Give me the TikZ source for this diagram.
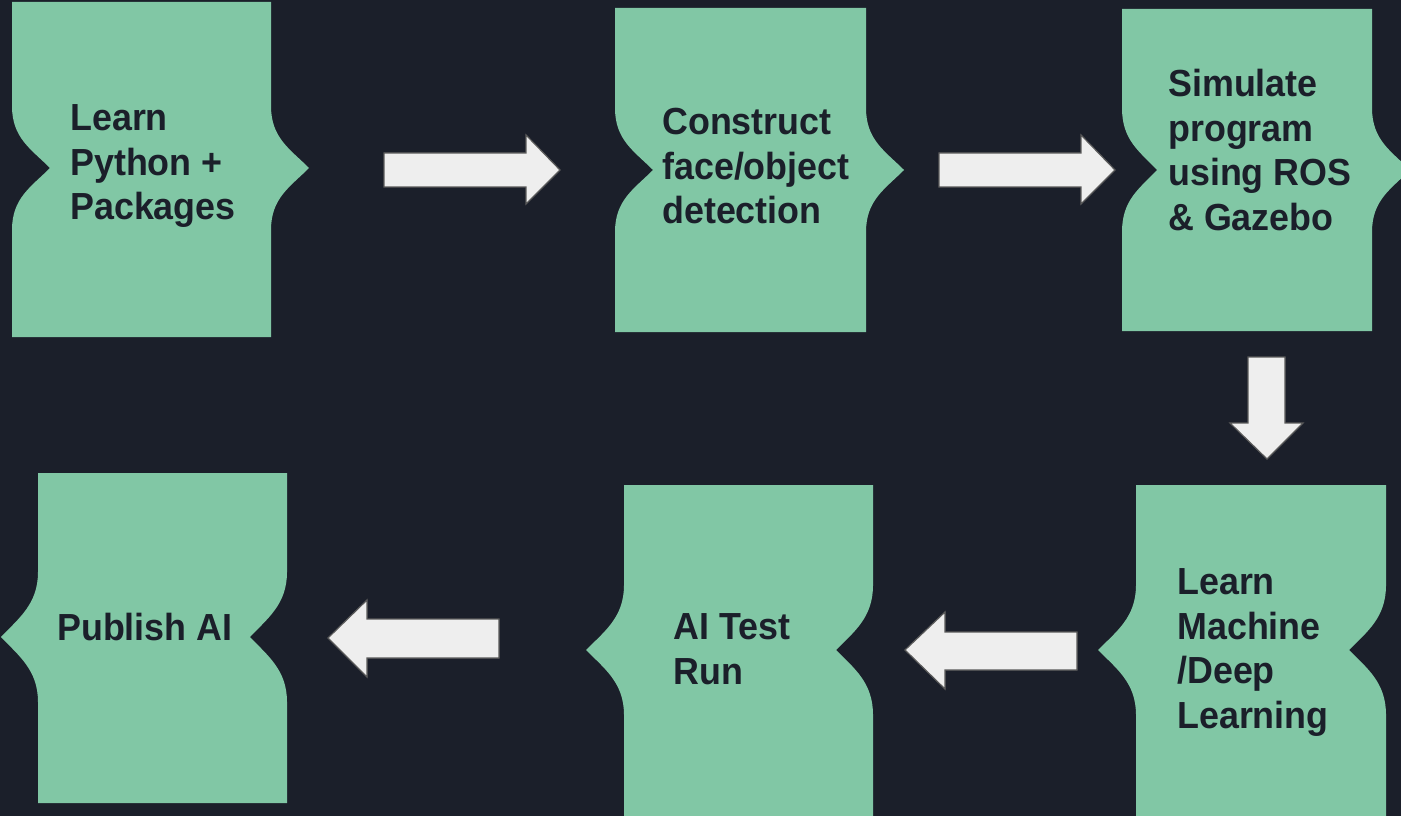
\documentclass[tikz,border=0pt]{standalone}
\usepackage{fontspec}
\setmainfont{Liberation Sans}[FakeStretch=0.95]
\definecolor{bgdark}{HTML}{1B1F2A}
\definecolor{stepgreen}{HTML}{81C7A5}
\definecolor{arrowfill}{HTML}{EEEEEE}
\definecolor{arrowedge}{HTML}{5A5A5A}
\tikzset{
  stepshape/.style={fill=stepgreen},
  blockarrow/.style={fill=arrowfill, draw=arrowedge, line width=0.9},
  steptext/.style={anchor=base west, inner sep=0pt, align=left, text=bgdark,
    font=\fontsize{28.3}{33.4}\selectfont\bfseries}
}
\begin{document}
\begin{tikzpicture}[x=0.75pt,y=0.75pt,yscale=-1,xscale=1]
%background, sets the size of the diagram
\fill [bgdark] (0,0) rectangle (1401,816);
\clip (0,0) rectangle (1401,816);

%Shape: Step [id:python]
\path [stepshape] (12,2) -- (271,2) -- (271,106) .. controls (271,138) and (290,149) .. (309,168) .. controls (290,187) and (271,198) .. (271,230) -- (271,337) -- (12,337) -- (12,230) .. controls (12,198) and (31,187) .. (50,168) .. controls (31,149) and (12,138) .. (12,106) -- cycle ;
%Shape: Step [id:detect]
\path [stepshape] (615,8) -- (866,8) -- (866,108) .. controls (866,140) and (885,151) .. (904,170) .. controls (885,189) and (866,200) .. (866,232) -- (866,332) -- (615,332) -- (615,232) .. controls (615,200) and (634,189) .. (653,170) .. controls (634,151) and (615,140) .. (615,108) -- cycle ;
%Shape: Step [id:simulate]
\path [stepshape] (1122,9) -- (1372,9) -- (1372,108) .. controls (1372,140) and (1391,151) .. (1410,170) .. controls (1391,189) and (1372,200) .. (1372,232) -- (1372,331) -- (1122,331) -- (1122,232) .. controls (1122,200) and (1139,189) .. (1157,170) .. controls (1139,151) and (1122,140) .. (1122,108) -- cycle ;
%Shape: Step [id:learnml]
\path [stepshape] (1136,485) -- (1386,485) -- (1386,585) .. controls (1386,617) and (1368,631) .. (1349,650) .. controls (1368,669) and (1386,683) .. (1386,715) -- (1386,830) -- (1136,830) -- (1136,715) .. controls (1136,683) and (1117,669) .. (1098,650) .. controls (1117,631) and (1136,617) .. (1136,585) -- cycle ;
%Shape: Step [id:testrun]
\path [stepshape] (624,485) -- (873,485) -- (873,585) .. controls (873,617) and (855,631) .. (836,650) .. controls (855,669) and (873,683) .. (873,715) -- (873,830) -- (624,830) -- (624,715) .. controls (624,683) and (605,669) .. (586,650) .. controls (605,631) and (624,617) .. (624,585) -- cycle ;
%Shape: Step [id:publish]
\path [stepshape] (38,473) -- (287,473) -- (287,572) .. controls (287,604) and (268,618) .. (250,637) .. controls (268,656) and (287,670) .. (287,702) -- (287,803) -- (38,803) -- (38,702) .. controls (38,670) and (19,656) .. (1,637) .. controls (19,618) and (38,604) .. (38,572) -- cycle ;

%Shape: Right Arrow [id:arrow1]
\draw [blockarrow] (384,153) -- (526,153) -- (526,135) -- (560,170) -- (526,204) -- (526,187) -- (384,187) -- cycle ;
%Shape: Right Arrow [id:arrow2]
\draw [blockarrow] (939,153) -- (1081,153) -- (1081,135) -- (1115,170) -- (1081,204) -- (1081,187) -- (939,187) -- cycle ;
%Shape: Down Arrow [id:arrow3]
\draw [blockarrow] (1248,357) -- (1285,357) -- (1285,423) -- (1303,423) -- (1267,459) -- (1230,423) -- (1248,423) -- cycle ;
%Shape: Left Arrow [id:arrow4]
\draw [blockarrow] (1077,632) -- (945,632) -- (945,612) -- (905,650) -- (945,689) -- (945,670) -- (1077,670) -- cycle ;
%Shape: Left Arrow [id:arrow5]
\draw [blockarrow] (499,619) -- (367,619) -- (367,600) -- (328,638) -- (367,677) -- (367,658) -- (499,658) -- cycle ;

% Text Node (anchored at the baseline of the last line)
\node [steptext] (python) at (70,220) {Learn\\Python +\\Packages};
% Text Node
\node [steptext] (detect) at (662,224) {Construct\\face/object\\detection};
% Text Node
\node [steptext] (simulate) at (1168,230.5) {Simulate\\program\\using ROS\\\& Gazebo};
% Text Node
\node [steptext] (learnml) at (1177,728.5) {Learn\\Machine\\/Deep\\Learning};
% Text Node
\node [steptext] (testrun) at (673,684.5) {AI Test\\Run};
% Text Node
\node [steptext] (publish) at (57,640) {Publish AI};

\end{tikzpicture}
\end{document}
